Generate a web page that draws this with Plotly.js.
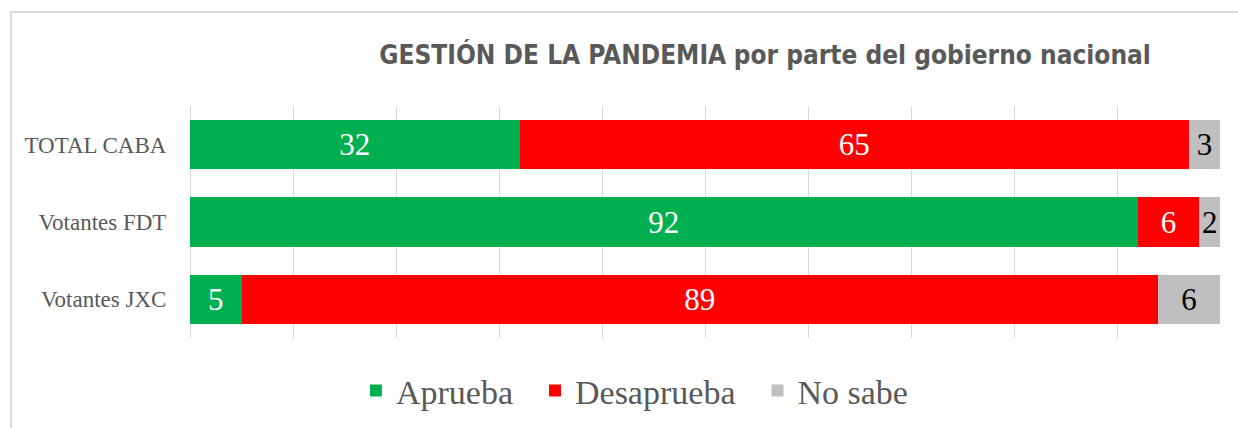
<!DOCTYPE html>
<html>
<head>
<meta charset="utf-8">
<script src="https://cdn.plot.ly/plotly-3.0.1.min.js"></script>
<style>
  html, body { margin: 0; padding: 0; background: #ffffff; }
  #wrap { position: relative; width: 1238px; height: 428px; overflow: hidden; }
  #chart { width: 1238px; height: 428px; }
  #frame { position: absolute; left: 10px; top: 11px; width: 1240px; height: 430px;
           border-left: 2px solid #d9d9d9; border-top: 2px solid #d9d9d9; pointer-events: none; }
</style>
</head>
<body>
<div id="wrap">
  <div id="chart"></div>
  <div id="frame"></div>
</div>
<script>
const categories = ["TOTAL CABA", "Votantes FDT", "Votantes JXC"];
const aprueba = [32, 92, 5];
const desaprueba = [65, 6, 89];
const noSabe = [3, 2, 6];
const seriesNames = ["Aprueba\u00a0\u00a0", "Desaprueba\u00a0\u00a0", "No sabe"];
const seriesColors = ["#00B050", "#FF0000", "#BFBFBF"];
const labelColors = ["#FFFFFF", "#FFFFFF", "#000000"];
const titleText = "<b>GESTIÓN DE LA PANDEMIA</b> <b>por parte del gobierno nacional</b>";

const values = [aprueba, desaprueba, noSabe];
const traces = values.map((vals, i) => ({
  type: "bar",
  orientation: "h",
  name: seriesNames[i],
  y: categories,
  x: vals,
  text: vals.map(String),
  texttemplate: "%{text}",
  textposition: "inside",
  insidetextanchor: "middle",
  constraintext: "none",
  textangle: 0,
  textfont: { family: "Liberation Serif, DejaVu Serif, serif", size: 31, color: labelColors[i] },
  marker: { color: seriesColors[i], line: { width: 0 } },
  hoverinfo: "none"
}));

const layout = {
  width: 1238,
  height: 428,
  paper_bgcolor: "rgba(0,0,0,0)",
  plot_bgcolor: "rgba(0,0,0,0)",
  margin: { l: 190, r: 18, t: 106, b: 90, pad: 0, autoexpand: false },
  barmode: "stack",
  bargap: 0.36,
  showlegend: true,
  title: {
    text: titleText,
    font: { family: "Liberation Sans Narrow, DejaVu Sans Condensed, Arial Narrow, sans-serif", size: 26, color: "#595959" },
    x: 0.618, xanchor: "center", xref: "container",
    y: 0.871, yanchor: "middle", yref: "container"
  },
  xaxis: {
    range: [0, 100],
    dtick: 10,
    tick0: 0,
    showticklabels: false,
    showgrid: true,
    gridcolor: "#d9d9d9",
    gridwidth: 1,
    zeroline: true,
    zerolinecolor: "#d9d9d9",
    zerolinewidth: 1,
    showline: false,
    fixedrange: true
  },
  yaxis: {
    type: "category",
    autorange: "reversed",
    showgrid: false,
    zeroline: false,
    showline: false,
    ticks: "outside",
    ticklen: 18,
    tickcolor: "rgba(0,0,0,0)",
    tickfont: { family: "Liberation Serif, DejaVu Serif, serif", size: 23, color: "#595959" },
    fixedrange: true
  },
  legend: {
    orientation: "h",
    x: 0.1611, xanchor: "left",
    y: -0.228, yanchor: "middle",
    font: { family: "Liberation Serif, DejaVu Serif, serif", size: 34, color: "#595959" },
    itemclick: false,
    itemdoubleclick: false,
    traceorder: "normal"
  }
};

Plotly.newPlot("chart", traces, layout, { staticPlot: true, displayModeBar: false });
</script>
</body>
</html>
